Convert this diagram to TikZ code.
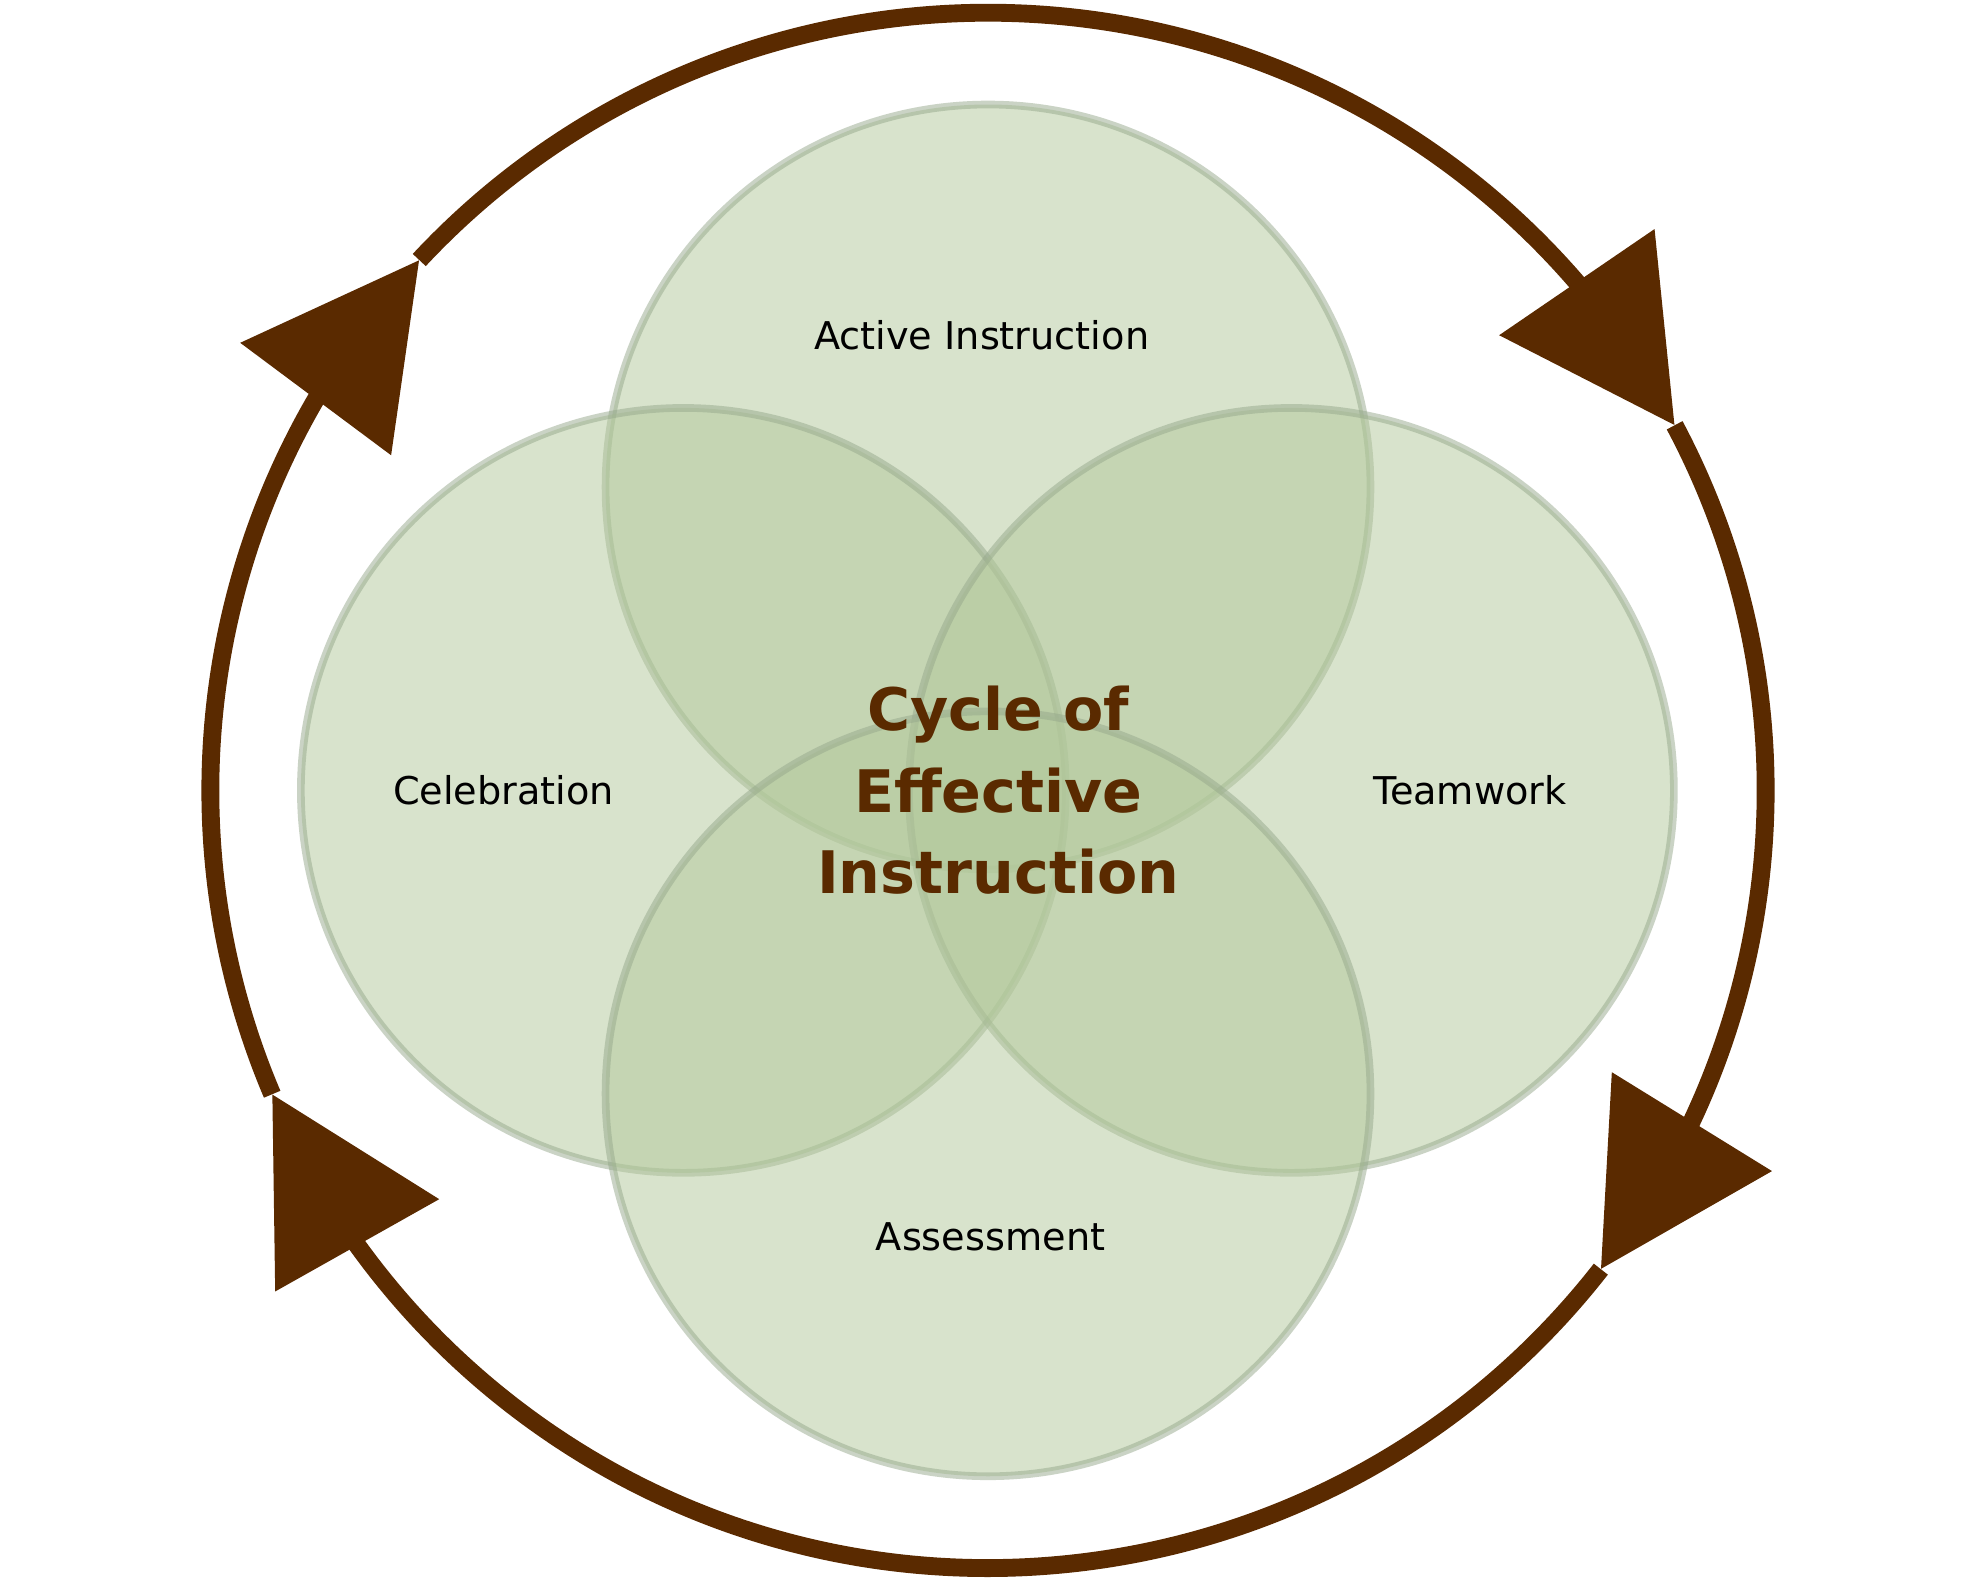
\documentclass[tikz,border=0pt]{standalone}
\usepackage{fontspec}
\setmainfont{DejaVu Sans}
\usetikzlibrary{arrows.meta,bending}
\definecolor{vfill}{RGB}{179,201,155}
\definecolor{vline}{RGB}{150,168,140}
\definecolor{ring}{RGB}{90,42,0}
\begin{document}
\begin{tikzpicture}[x=0.5pt,y=0.5pt,
  venn/.style={circle,minimum size=300pt,fill=vfill,draw=vline,line width=3pt,opacity=0.5,inner sep=0pt},
  lbl/.style={font=\fontsize{15}{18}\selectfont,text=black},
  ringarc/.style={draw=ring,line width=7pt,-{Triangle[length=68pt,width=72pt]}}]
\useasboundingbox (0,0) rectangle (1550,1240);
\fill[white] (0,0) rectangle (1550,1240);
\coordinate (c) at (775,620);
\node[venn] (top) at (775,858) {};
\node[venn] (left) at (536,620) {};
\node[venn] (right) at (1013,620) {};
\node[venn] (bottom) at (775,382) {};
\node[lbl] (la) at (770,977) {Active Instruction};
\node[lbl] (lc) at (395,620) {Celebration};
\node[lbl] (lt) at (1153,620) {Teamwork};
\node[lbl] (ls) at (777,270) {Assessment};
\node[font=\bfseries\fontsize{23}{32}\selectfont,text=ring,align=center] (title) at (783,620) {Cycle of\\Effective\\Instruction};
\draw[ringarc] ([shift={(137:610)}]c) arc[start angle=137,end angle=28,radius=610];
\draw[ringarc] ([shift={(28:610)}]c) arc[start angle=28,end angle=-38,radius=610];
\draw[ringarc] ([shift={(-38:610)}]c) arc[start angle=-38,end angle=-157,radius=610];
\draw[ringarc] ([shift={(203:610)}]c) arc[start angle=203,end angle=137,radius=610];
\end{tikzpicture}
\end{document}
